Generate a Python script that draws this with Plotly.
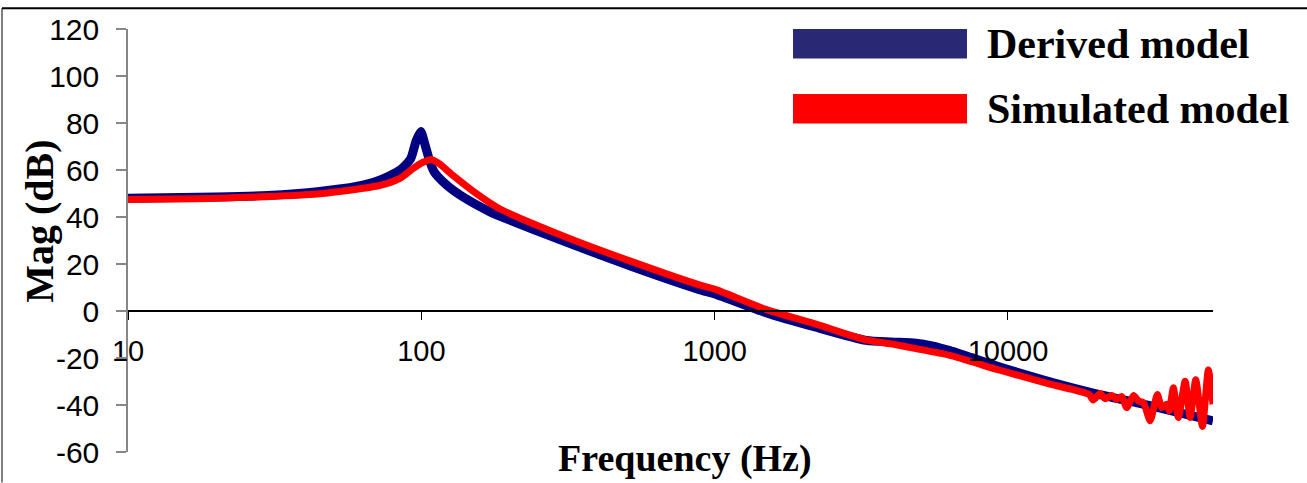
import plotly.graph_objects as go

# ---------------- data ----------------
freq_derived = [10, 20, 30, 45, 60, 72, 84.5, 92, 96, 99.6, 102.8, 106.7, 110.6, 121, 138.5,
                171, 185, 312, 525, 887, 1000, 1496, 2200, 3282, 4000, 4856, 5500, 6300,
                7500, 9330, 13800, 19380, 30000, 50000]
mag_derived = [48, 48.5, 49.2, 50.9, 53, 55.7, 59.9, 64.8, 72.4, 76.4, 71, 64, 59.2, 54.0, 48.6,
               42.3, 40.4, 29.3, 18.8, 9.1, 7.3, -0.7, -6.8, -12.5, -13.2, -13.7, -14.8, -16.7,
               -19.8, -23.7, -30, -34.8, -40.1, -46.7]

freq_sim = [10, 20, 45, 72, 84.5, 93.6, 101, 108, 115, 128, 158, 185, 312, 525, 887, 1000,
            1496, 2200, 3282, 4000, 4856, 6300, 9330, 13800, 18900,
            19540, 20600, 21430, 22590, 23490, 24430, 25400, 26790, 27860, 28970, 30530,
            32300, 33420, 34750, 35480, 36630, 38100, 40180, 41780, 43660, 46030, 48200, 50000]
mag_sim = [47.5, 48.0, 49.9, 53.4, 56.4, 60.6, 63.2, 64.5, 62.7, 57.8, 49.0, 43.5, 31.4, 20.9,
           11.1, 9.3, 0.7, -5.5, -12.3, -14.0, -16.0, -18.8, -25.1, -31.0, -35.5,
           -37.9, -35.1, -37.3, -35.9, -37.6, -36.4, -41.1, -35.9, -38.3, -39.0, -46.7,
           -35.5, -41.1, -39.7, -42.5, -32.7, -45.3, -29.9, -45.3, -29.3, -49.1, -25.1, -39.7]

x_tick_vals = [10, 100, 1000, 10000]
x_tick_text = ["10", "100", "1000", "10000"]
y_tick_vals = [-60, -40, -20, 0, 20, 40, 60, 80, 100, 120]
y_tick_text = ["-60", "-40", "-20", "0", "20", "40", "60", "80", "100", "120"]
y_range = [-60, 120]
series_names = ["Derived model", "Simulated model"]

# ---------------- layout geometry (pixels) ----------------
W, H = 1307, 483
ML, MR, MT, MB = 128, 94, 22, 31
PW, PH = W - ML - MR, H - MT - MB


def px_x(px):
    return (px - ML) / PW


def px_y(py):
    return (H - MB - py) / PH


NAVY = "#000080"
RED = "#FF0000"
SERIF = "Liberation Serif, Times New Roman, serif"
SANS = "Liberation Sans, Arial, sans-serif"

fig = go.Figure()
fig.add_trace(go.Scatter(x=freq_derived, y=mag_derived, mode="lines", name=series_names[0],
                         line=dict(color=NAVY, width=9, shape="spline", smoothing=0.6),
                         showlegend=False))
fig.add_trace(go.Scatter(x=freq_sim, y=mag_sim, mode="lines", name=series_names[1],
                         line=dict(color=RED, width=7, shape="spline", smoothing=0.6),
                         showlegend=False))

zero_pos = (0 - y_range[0]) / (y_range[1] - y_range[0])

fig.update_layout(
    width=W, height=H,
    margin=dict(l=ML, r=MR, t=MT, b=MB, pad=0),
    paper_bgcolor="white", plot_bgcolor="white",
    xaxis=dict(type="log", range=[1, 4.699], tickvals=x_tick_vals, ticktext=x_tick_text,
               showgrid=False, zeroline=False, showline=True, linecolor="black", linewidth=1.5,
               ticks="outside", ticklen=8, tickcolor="black", tickwidth=1.2,
               anchor="free", position=zero_pos, ticklabelstandoff=6,
               tickfont=dict(family=SANS, size=29, color="black")),
    yaxis=dict(range=y_range, tickvals=y_tick_vals, ticktext=y_tick_text,
               showgrid=False, zeroline=False, showline=True,
               linecolor="#868686", linewidth=1.5, ticks="outside", ticklen=10,
               tickcolor="#868686", tickwidth=1.5, ticklabelstandoff=11,
               tickfont=dict(family=SANS, size=30, color="black")),
)

# axis titles
fig.add_annotation(text="<b>Frequency (Hz)</b>", xref="paper", yref="paper",
                   x=px_x(685), y=px_y(459), xanchor="center", yanchor="middle",
                   showarrow=False, font=dict(family=SERIF, size=38, color="black"))
fig.add_annotation(text="<b>Mag (dB)</b>", xref="paper", yref="paper",
                   x=px_x(40), y=px_y(217), xanchor="center", yanchor="middle",
                   textangle=-90, showarrow=False,
                   font=dict(family=SERIF, size=40, color="black"))

# legend (drawn manually to match wide swatches)
fig.add_shape(type="rect", xref="paper", yref="paper",
              x0=px_x(793), x1=px_x(967), y0=px_y(52), y1=px_y(22),
              fillcolor="#282874", line=dict(width=0))
fig.add_shape(type="rect", xref="paper", yref="paper",
              x0=px_x(793), x1=px_x(967), y0=px_y(118), y1=px_y(88),
              fillcolor=RED, line=dict(width=0))
fig.add_annotation(text="<b>" + series_names[0] + "</b>", xref="paper", yref="paper",
                   x=px_x(985), y=px_y(37), xanchor="left", yanchor="middle",
                   showarrow=False, font=dict(family=SERIF, size=42, color="black"))
fig.add_annotation(text="<b>" + series_names[1] + "</b>", xref="paper", yref="paper",
                   x=px_x(985), y=px_y(103), xanchor="left", yanchor="middle",
                   showarrow=False, font=dict(family=SERIF, size=42, color="black"))

# outer frame (left and top edges)
fig.add_shape(type="line", xref="paper", yref="paper",
              x0=px_x(2), x1=px_x(2), y0=px_y(H), y1=px_y(1),
              line=dict(color="#808080", width=2))
fig.add_shape(type="line", xref="paper", yref="paper",
              x0=px_x(2), x1=px_x(W), y0=px_y(1), y1=px_y(1),
              line=dict(color="black", width=2))

fig.write_html("out.html", config={"displayModeBar": False},
               post_script="document.body.style.margin='0';document.body.style.overflow='hidden';")
